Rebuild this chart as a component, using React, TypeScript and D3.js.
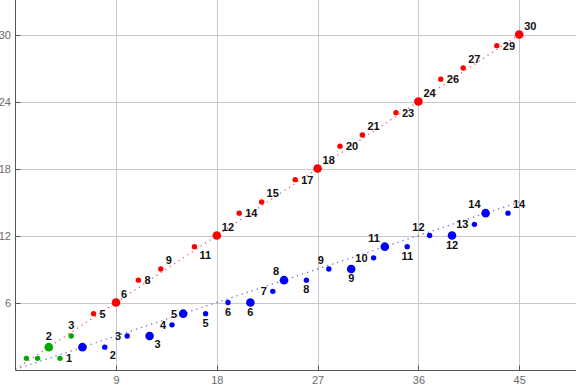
import React, { useEffect, useRef } from 'react';
import * as d3 from 'd3';

// points: [x, y]
const redX = [7, 9, 11, 13, 16, 18, 20, 22, 25, 27, 29, 31, 34, 36, 38, 40, 43, 45];
const redY = [5, 6, 8, 9, 11, 12, 14, 15, 17, 18, 20, 21, 23, 24, 26, 27, 29, 30];
const redBig = [9, 18, 27, 36, 45]; // x values of the larger dots
const redLabelSide = ['r', 'ar', 'r', 'ar', 'br', 'ar', 'r', 'ar', 'r', 'ar', 'r', 'ar', 'r', 'ar', 'r', 'ar', 'r', 'ar'];

const blueX = [6, 8, 10, 12, 14, 15, 17, 19, 21, 23, 24, 26, 28, 30, 32, 33, 35, 37, 39, 41, 42, 44];
const blueY = [2, 2, 3, 3, 4, 5, 5, 6, 6, 7, 8, 8, 9, 9, 10, 11, 11, 12, 12, 13, 14, 14];
const blueBig = [6, 12, 15, 21, 24, 30, 33, 39, 42];
const blueLabelSide = ['', 'br', 'l', 'br', 'l', 'l', 'b', 'b', 'b', 'l', 'al', 'b', 'al', 'b', 'l', 'al', 'b', 'al', 'b', 'l', 'al', 'ar'];

const greenX = [1, 2, 3, 4, 5];
const greenY = [1, 1, 2, 1, 3];
const greenBig = [3];
const greenLabelSide = ['', '', 'a', 'r', 'a'];

// dotted guide lines
const redLine = [[0, 0], [45, 30]];
const blueLine = [[0, 0], [45, 15]];

const xTicks = [9, 18, 27, 36, 45];
const yTicks = [6, 12, 18, 24, 30];

const width = 576;
const height = 387;

const App: React.FC = () => {
  const svgRef = useRef<SVGSVGElement>(null);

  useEffect(() => {
    if (!svgRef.current) return;
    const svg = d3.select(svgRef.current);
    svg.selectAll('*').remove();

    const x = d3.scaleLinear().domain([0, 50]).range([15.2, 575.2]);
    const y = d3.scaleLinear().domain([0, 33]).range([369.5, 1]);
    const x0 = 15.5;
    const y0 = 370.5;

    // grid
    const grid = svg.append('g').attr('stroke', '#c8c8c8').attr('stroke-width', 1);
    grid.selectAll('.gx').data(xTicks).join('line')
      .attr('x1', d => Math.round(x(d)) + 0.5).attr('x2', d => Math.round(x(d)) + 0.5)
      .attr('y1', 0).attr('y2', y0);
    grid.selectAll('.gy').data(yTicks).join('line')
      .attr('y1', d => Math.round(y(d)) + 0.5).attr('y2', d => Math.round(y(d)) + 0.5)
      .attr('x1', x0).attr('x2', width);

    // axes
    const ax = svg.append('g').attr('stroke', '#555').attr('stroke-width', 1);
    ax.append('line').attr('x1', x0).attr('x2', x0).attr('y1', 0).attr('y2', y0);
    ax.append('line').attr('x1', x0).attr('x2', width).attr('y1', y0).attr('y2', y0);
    ax.selectAll('.tx').data(xTicks).join('line')
      .attr('x1', d => Math.round(x(d)) + 0.5).attr('x2', d => Math.round(x(d)) + 0.5)
      .attr('y1', y0).attr('y2', y0 - 5);
    ax.selectAll('.ty').data(yTicks).join('line')
      .attr('y1', d => Math.round(y(d)) + 0.5).attr('y2', d => Math.round(y(d)) + 0.5)
      .attr('x1', x0).attr('x2', x0 + 5);

    const tickText = svg.append('g')
      .attr('font-family', 'Liberation Sans, Arial, sans-serif')
      .attr('font-size', 11).attr('fill', '#6a6a6a');
    tickText.selectAll('.lx').data(xTicks).join('text')
      .attr('x', d => x(d) + 0.5).attr('y', 384)
      .attr('text-anchor', 'middle').text(d => String(d));
    tickText.selectAll('.ly').data(yTicks).join('text')
      .attr('x', 11).attr('y', d => y(d) + 4)
      .attr('text-anchor', 'end').text(d => String(d));

    // dotted lines
    const line = d3.line<number[]>().x(d => x(d[0])).y(d => y(d[1]));
    svg.append('path').attr('d', line(redLine)).attr('fill', 'none')
      .attr('stroke', '#e03030').attr('stroke-opacity', 0.75)
      .attr('stroke-width', 1.3).attr('stroke-dasharray', '1.3,4');
    svg.append('path').attr('d', line(blueLine)).attr('fill', 'none')
      .attr('stroke', '#3030d0').attr('stroke-opacity', 0.7)
      .attr('stroke-width', 1.3).attr('stroke-dasharray', '1.3,4');

    const offsets: Record<string, [number, number, string]> = {
      r: [6, 4, 'start'],
      ar: [5, -5, 'start'],
      br: [5, 12, 'start'],
      l: [-6, 4, 'end'],
      al: [-5, -5, 'end'],
      a: [0, -7, 'middle'],
      b: [0, 13, 'middle'],
    };

    const series = [
      { xs: greenX, ys: greenY, big: greenBig, side: greenLabelSide, color: '#00aa00' },
      { xs: blueX, ys: blueY, big: blueBig, side: blueLabelSide, color: '#0000ff' },
      { xs: redX, ys: redY, big: redBig, side: redLabelSide, color: '#ff0000' },
    ];

    series.forEach(s => {
      const pts = s.xs.map((v, i) => ({ x: v, y: s.ys[i], side: s.side[i], big: s.big.includes(v) }));
      const g = svg.append('g');
      g.selectAll('circle').data(pts).join('circle')
        .attr('cx', d => x(d.x)).attr('cy', d => y(d.y))
        .attr('r', d => (d.big ? 4.3 : 2.7))
        .attr('fill', s.color);
      g.selectAll('text').data(pts.filter(d => d.side)).join('text')
        .attr('x', d => x(d.x) + offsets[d.side][0])
        .attr('y', d => y(d.y) + offsets[d.side][1])
        .attr('text-anchor', d => offsets[d.side][2])
        .attr('font-family', 'Liberation Sans, Arial, sans-serif')
        .attr('font-size', 11).attr('font-weight', 'bold').attr('fill', '#111')
        .text(d => String(d.y));
    });
  }, []);

  return (
    <div style={{ position: 'fixed', left: 0, top: 0, width, height, background: '#fff' }}>
      <svg ref={svgRef} width={width} height={height} />
    </div>
  );
};

export default App;
